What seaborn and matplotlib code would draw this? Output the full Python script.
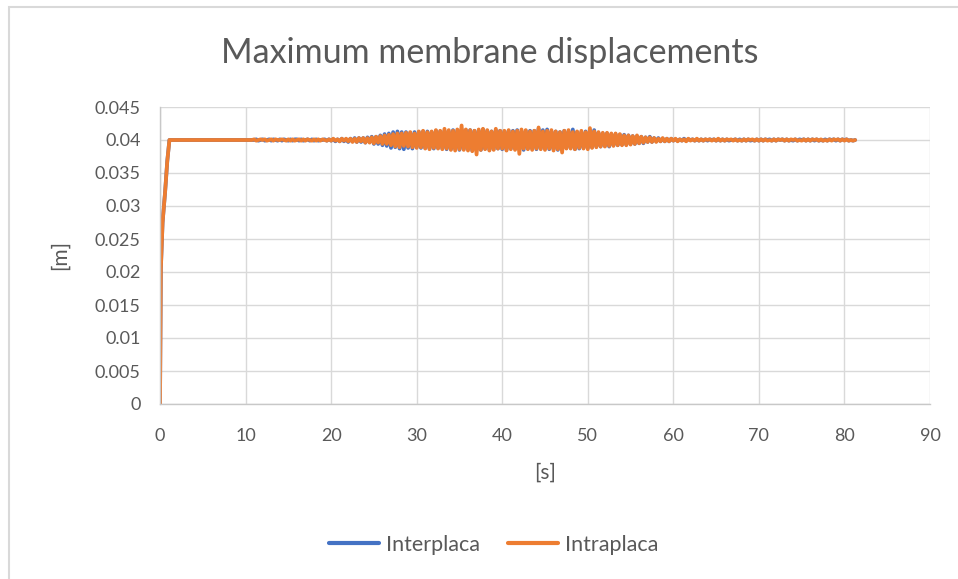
import numpy as np
import pandas as pd
import matplotlib
matplotlib.use("Agg")
import matplotlib.pyplot as plt
import seaborn as sns
from matplotlib.patches import Rectangle

# Start-up ramp (shared by both records)
t_ramp = [0.0, 0.1, 0.3, 0.6, 0.85, 1.1, 3.0, 5.0, 7.0, 9.0]
y_ramp = [0.0, 0.0205, 0.0275, 0.0322, 0.0368, 0.0400, 0.0400, 0.0400, 0.0400, 0.0400]

# Sampled response, 0.25 s step from 10 s to 81.25 s
t_start, t_step, t_end = 10.0, 0.25, 81.25

intraplaca = [
    0.0400, 0.0400, 0.0400, 0.0400,
    0.0401, 0.0399, 0.0400, 0.0401,
    0.0400, 0.0401, 0.0399, 0.0400,
    0.0401, 0.0399, 0.0401, 0.0400,
    0.0400, 0.0401, 0.0400, 0.0399,
    0.0401, 0.0399, 0.0401, 0.0399,
    0.0400, 0.0401, 0.0399, 0.0401,
    0.0399, 0.0401, 0.0400, 0.0399,
    0.0401, 0.0399, 0.0401, 0.0399,
    0.0401, 0.0400, 0.0399, 0.0401,
    0.0399, 0.0402, 0.0399, 0.0401,
    0.0398, 0.0402, 0.0399, 0.0402,
    0.0398, 0.0402, 0.0397, 0.0402,
    0.0397, 0.0403, 0.0398, 0.0403,
    0.0396, 0.0403, 0.0396, 0.0404,
    0.0395, 0.0405, 0.0396, 0.0406,
    0.0394, 0.0407, 0.0394, 0.0408,
    0.0392, 0.0409, 0.0390, 0.0410,
    0.0389, 0.0410, 0.0391, 0.0411,
    0.0390, 0.0412, 0.0389, 0.0410,
    0.0388, 0.0413, 0.0389, 0.0414,
    0.0387, 0.0412, 0.0386, 0.0413,
    0.0388, 0.0415, 0.0387, 0.0414,
    0.0386, 0.0417, 0.0387, 0.0415,
    0.0385, 0.0414, 0.0384, 0.0416,
    0.0386, 0.0422, 0.0385, 0.0416,
    0.0384, 0.0415, 0.0383, 0.0414,
    0.0378, 0.0416, 0.0385, 0.0417,
    0.0386, 0.0415, 0.0384, 0.0413,
    0.0385, 0.0417, 0.0387, 0.0414,
    0.0387, 0.0414, 0.0384, 0.0415,
    0.0386, 0.0413, 0.0385, 0.0414,
    0.0379, 0.0416, 0.0387, 0.0415,
    0.0386, 0.0413, 0.0385, 0.0414,
    0.0387, 0.0419, 0.0386, 0.0413,
    0.0385, 0.0414, 0.0387, 0.0415,
    0.0384, 0.0413, 0.0386, 0.0412,
    0.0381, 0.0414, 0.0387, 0.0415,
    0.0387, 0.0412, 0.0386, 0.0413,
    0.0388, 0.0414, 0.0387, 0.0412,
    0.0386, 0.0418, 0.0388, 0.0413,
    0.0389, 0.0412, 0.0390, 0.0411,
    0.0390, 0.0411, 0.0391, 0.0410,
    0.0391, 0.0410, 0.0392, 0.0409,
    0.0392, 0.0407, 0.0392, 0.0407,
    0.0393, 0.0406, 0.0394, 0.0407,
    0.0395, 0.0405, 0.0396, 0.0404,
    0.0397, 0.0404, 0.0397, 0.0403,
    0.0397, 0.0402, 0.0398, 0.0403,
    0.0398, 0.0402, 0.0398, 0.0402,
    0.0399, 0.0402, 0.0398, 0.0401,
    0.0399, 0.0401, 0.0398, 0.0402,
    0.0399, 0.0401, 0.0399, 0.0402,
    0.0399, 0.0401, 0.0399, 0.0401,
    0.0400, 0.0401, 0.0399, 0.0401,
    0.0399, 0.0402, 0.0399, 0.0401,
    0.0399, 0.0401, 0.0400, 0.0401,
    0.0399, 0.0401, 0.0399, 0.0400,
    0.0399, 0.0401, 0.0399, 0.0401,
    0.0400, 0.0401, 0.0399, 0.0401,
    0.0399, 0.0401, 0.0399, 0.0401,
    0.0399, 0.0400, 0.0399, 0.0401,
    0.0399, 0.0401, 0.0400, 0.0401,
    0.0399, 0.0401, 0.0399, 0.0401,
    0.0400, 0.0401, 0.0399, 0.0400,
    0.0399, 0.0401, 0.0399, 0.0401,
    0.0399, 0.0401, 0.0400, 0.0401,
    0.0399, 0.0401, 0.0399, 0.0400,
    0.0399, 0.0401, 0.0399, 0.0401,
    0.0400, 0.0401, 0.0399, 0.0401,
    0.0399, 0.0401, 0.0399, 0.0400,
    0.0399, 0.0400,
]

interplaca = [
    0.0400, 0.0400, 0.0400, 0.0400,
    0.0400, 0.0401, 0.0399, 0.0400,
    0.0401, 0.0399, 0.0400, 0.0401,
    0.0399, 0.0401, 0.0400, 0.0399,
    0.0401, 0.0399, 0.0401, 0.0400,
    0.0399, 0.0401, 0.0399, 0.0401,
    0.0401, 0.0399, 0.0401, 0.0399,
    0.0400, 0.0401, 0.0399, 0.0401,
    0.0399, 0.0401, 0.0399, 0.0400,
    0.0400, 0.0401, 0.0399, 0.0401,
    0.0399, 0.0401, 0.0398, 0.0401,
    0.0398, 0.0402, 0.0398, 0.0401,
    0.0397, 0.0402, 0.0398, 0.0403,
    0.0397, 0.0403, 0.0397, 0.0403,
    0.0396, 0.0404, 0.0397, 0.0405,
    0.0394, 0.0405, 0.0394, 0.0407,
    0.0392, 0.0409, 0.0391, 0.0410,
    0.0388, 0.0412, 0.0389, 0.0413,
    0.0387, 0.0412, 0.0386, 0.0412,
    0.0388, 0.0411, 0.0387, 0.0412,
    0.0389, 0.0412, 0.0388, 0.0413,
    0.0388, 0.0413, 0.0387, 0.0412,
    0.0387, 0.0414, 0.0388, 0.0413,
    0.0387, 0.0414, 0.0386, 0.0413,
    0.0386, 0.0415, 0.0387, 0.0414,
    0.0385, 0.0416, 0.0386, 0.0415,
    0.0386, 0.0415, 0.0384, 0.0414,
    0.0385, 0.0414, 0.0385, 0.0416,
    0.0387, 0.0414, 0.0385, 0.0413,
    0.0386, 0.0415, 0.0387, 0.0414,
    0.0386, 0.0413, 0.0385, 0.0414,
    0.0387, 0.0414, 0.0387, 0.0415,
    0.0386, 0.0413, 0.0385, 0.0414,
    0.0387, 0.0414, 0.0387, 0.0414,
    0.0386, 0.0417, 0.0387, 0.0415,
    0.0387, 0.0416, 0.0386, 0.0413,
    0.0386, 0.0413, 0.0385, 0.0412,
    0.0387, 0.0414, 0.0388, 0.0413,
    0.0388, 0.0416, 0.0386, 0.0412,
    0.0387, 0.0412, 0.0388, 0.0413,
    0.0388, 0.0413, 0.0389, 0.0415,
    0.0390, 0.0411, 0.0390, 0.0410,
    0.0391, 0.0410, 0.0390, 0.0409,
    0.0392, 0.0409, 0.0392, 0.0408,
    0.0393, 0.0408, 0.0393, 0.0407,
    0.0394, 0.0406, 0.0394, 0.0405,
    0.0395, 0.0405, 0.0395, 0.0404,
    0.0397, 0.0405, 0.0397, 0.0403,
    0.0398, 0.0403, 0.0398, 0.0402,
    0.0398, 0.0402, 0.0398, 0.0402,
    0.0399, 0.0401, 0.0399, 0.0401,
    0.0399, 0.0402, 0.0399, 0.0401,
    0.0400, 0.0401, 0.0399, 0.0401,
    0.0399, 0.0401, 0.0399, 0.0401,
    0.0399, 0.0401, 0.0400, 0.0401,
    0.0399, 0.0401, 0.0399, 0.0401,
    0.0399, 0.0401, 0.0399, 0.0400,
    0.0400, 0.0401, 0.0399, 0.0401,
    0.0399, 0.0401, 0.0399, 0.0401,
    0.0399, 0.0400, 0.0399, 0.0401,
    0.0399, 0.0401, 0.0399, 0.0401,
    0.0400, 0.0401, 0.0399, 0.0401,
    0.0399, 0.0401, 0.0400, 0.0401,
    0.0399, 0.0401, 0.0399, 0.0400,
    0.0399, 0.0401, 0.0399, 0.0401,
    0.0400, 0.0401, 0.0399, 0.0401,
    0.0399, 0.0401, 0.0399, 0.0401,
    0.0399, 0.0400, 0.0399, 0.0401,
    0.0399, 0.0401, 0.0400, 0.0401,
    0.0399, 0.0401, 0.0399, 0.0401,
    0.0400, 0.0401, 0.0399, 0.0400,
    0.0399, 0.0400,
]

series_names = ["Interplaca", "Intraplaca"]
series_colors = ["#4472C4", "#ED7D31"]

x_ticks = [0, 10, 20, 30, 40, 50, 60, 70, 80, 90]
y_ticks = [0, 0.005, 0.01, 0.015, 0.02, 0.025, 0.03, 0.035, 0.04, 0.045]
y_tick_labels = ["0", "0.005", "0.01", "0.015", "0.02", "0.025", "0.03", "0.035", "0.04", "0.045"]

t_sampled = np.arange(t_start, t_end + t_step / 2, t_step)
frames = []
for name, values in zip(series_names, [interplaca, intraplaca]):
    frames.append(pd.DataFrame({
        "t": np.concatenate([t_ramp, t_sampled]),
        "disp": np.concatenate([y_ramp, values]),
        "series": name,
    }))
df = pd.concat(frames, ignore_index=True)

sns.set_theme(style="white")
plt.rcParams["font.family"] = ["Lato", "DejaVu Sans"]
text_color = "#595959"

fig = plt.figure(figsize=(9.58, 5.79), dpi=100)
ax = fig.add_axes([160 / 958, 1 - 404 / 579, 770 / 958, 297 / 579])

sns.lineplot(data=df, x="t", y="disp", hue="series", hue_order=series_names,
             palette=series_colors, estimator=None, sort=False,
             linewidth=2.7, ax=ax, legend=True)

ax.set_xlim(0, 90)
ax.set_ylim(0, 0.045)
ax.set_xticks(x_ticks)
ax.set_yticks(y_ticks)
ax.set_yticklabels(y_tick_labels)
ax.grid(True, color="#d9d9d9", linewidth=1.0)
ax.set_axisbelow(True)
for side in ["top", "right"]:
    ax.spines[side].set_visible(False)
for side in ["left", "bottom"]:
    ax.spines[side].set_color("#c8c8c8")
    ax.spines[side].set_linewidth(1.0)
ax.tick_params(axis="both", length=0, labelsize=13, labelcolor=text_color)
ax.tick_params(axis="x", pad=17)
ax.tick_params(axis="y", pad=14)

ax.set_xlabel("[s]", fontsize=15, color=text_color, labelpad=14)
ax.set_ylabel("[m]", fontsize=15, color=text_color, labelpad=18)
fig.text(490 / 958, 1 - 53 / 579, "Maximum membrane displacements",
         ha="center", va="center", fontsize=24.5, color=text_color)

handles, labels = ax.get_legend_handles_labels()
for h in handles:
    h.set_linewidth(3.0)
ax.legend(handles, labels, loc="center", bbox_to_anchor=(494 / 958, 1 - 545 / 579),
          bbox_transform=fig.transFigure, ncol=2, frameon=False,
          fontsize=15.5, labelcolor=text_color, handlelength=2.3,
          handletextpad=0.35, columnspacing=1.3)

# Chart-area outline
fig.patches.append(Rectangle((9 / 958, -0.5), 2.0, 1.5 - 7 / 579,
                             transform=fig.transFigure, fill=False,
                             edgecolor="#d9d9d9", linewidth=1.5))

fig.savefig("out.png", dpi=100)
